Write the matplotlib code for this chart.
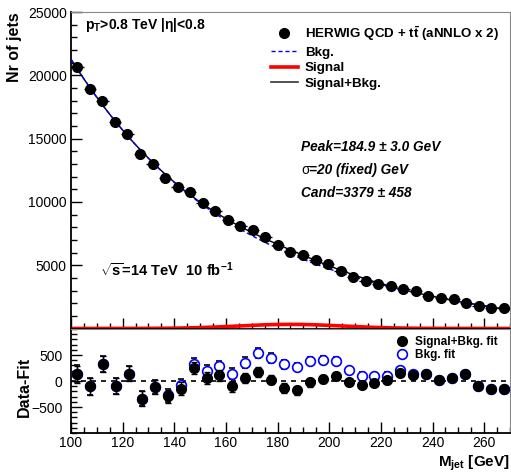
import numpy as np
import matplotlib
matplotlib.use("Agg")
import matplotlib.pyplot as plt
from matplotlib.lines import Line2D

plt.rcParams['font.family'] = ['Liberation Sans', 'DejaVu Sans']
plt.rcParams['mathtext.fontset'] = 'custom'
plt.rcParams['mathtext.rm'] = 'Liberation Sans'
plt.rcParams['mathtext.it'] = 'Liberation Sans:italic'
plt.rcParams['mathtext.bf'] = 'Liberation Sans:bold'

# top panel: jets per bin, 35 bins between 100 and 270 GeV
counts = [20635, 18945, 18000, 16290, 15365, 13785, 13000, 11865, 11200, 10810,
          9940, 9310, 8570, 8120, 7780, 7205, 6597, 6070, 5807, 5412,
          5070, 4543, 4043, 3780, 3515, 3380, 3120, 2963, 2595, 2435,
          2330, 1990, 1800, 1645, 1595]

# bottom panel: 5 GeV bins from 100 to 270 GeV
res_edges = np.arange(100, 275, 5)

# data - (signal+bkg) fit
resid_sb = [128, -103, 333, -96, 141, -340, -115, -295, -147, 250,
            64, 109, -103, 58, 173, 26, -135, -180, -26, 32,
            90, -26, -70, -38, 13, 160, 109, 141, 13, 64,
            128, -90, -147, -154]

# data - bkg fit
resid_b = [141, -103, 333, -96, 141, -340, -115, -276, -83, 320,
           186, 282, 141, 352, 538, 442, 320, 269, 385, 397,
           385, 205, 103, 90, 103, 205, 141, 141, 13, 64,
           128, -90, -147, -154]

resid_err = [165, 160, 155, 150, 145, 140, 135, 130, 125, 120,
             115, 110, 105, 100, 95, 92, 88, 85, 82, 78,
             75, 72, 70, 67, 64, 62, 60, 58, 55, 53,
             51, 48, 46, 44]

# fit result shown on the plot
sig_mean = 184.9
sig_width = 20.0
sig_cand = 3379

edges = np.linspace(100, 270, len(counts) + 1)
centers = 0.5 * (edges[:-1] + edges[1:])
bw = edges[1] - edges[0]
counts = np.array(counts, dtype=float)
errs = np.sqrt(counts)
res_centers = 0.5 * (res_edges[:-1] + res_edges[1:])

xs = np.linspace(100, 270, 400)
gauss = lambda x: sig_cand * bw / (np.sqrt(2 * np.pi) * sig_width) * np.exp(-0.5 * ((x - sig_mean) / sig_width) ** 2)
coef = np.polyfit(centers, np.log(counts - gauss(centers)), 4)
bkg = np.exp(np.polyval(coef, xs))
sig = gauss(xs)

fig = plt.figure(figsize=(5.11, 4.73), dpi=100)
ax1 = fig.add_axes([71 / 511, 1 - 328.5 / 473, 439 / 511, 316.5 / 473])
ax2 = fig.add_axes([71 / 511, 1 - 433 / 473, 439 / 511, 104 / 473])


def ptxt(x, y, s, **kw):
    # place text at reference pixel position
    fig.text(x / 511, 1 - y / 473, s, **kw)


for ax in (ax1, ax2):
    ax.set_xlim(100, 270)
    ax.tick_params(which='both', direction='in', labelsize=10)
    ax.tick_params(which='major', length=8, width=1)
    ax.tick_params(which='minor', length=4, width=1)
    ax.xaxis.set_major_locator(plt.MultipleLocator(20))
    ax.xaxis.set_minor_locator(plt.MultipleLocator(5))
    for s in ('top', 'right'):
        ax.spines[s].set_color('#888888')
    for s in ('left', 'bottom'):
        ax.spines[s].set_linewidth(1.3)

# top panel
ax1.set_ylim(0, 25000)
ax1.set_yticks([5000, 10000, 15000, 20000, 25000])
ax1.yaxis.set_minor_locator(plt.MultipleLocator(1000))
ax1.tick_params(axis='x', labelbottom=False)
ax1.tick_params(axis='y', pad=3)

ax1.plot(xs, sig, color='red', lw=2.6, zorder=2)
ax1.plot(xs, bkg + sig, color='black', lw=1, zorder=3)
ax1.plot(xs, bkg, color='blue', lw=1, ls=(0, (3, 2)), zorder=3)
ax1.errorbar(centers, counts, xerr=bw / 2, yerr=errs, fmt='o', color='black',
             ms=7, elinewidth=1, capsize=0, zorder=4)

ptxt(15, 12, 'Nr of jets', rotation=90, ha='center', va='top', fontsize=11.5, fontweight='bold')
ptxt(85, 25, r'p$_{\mathbf{T}}$>0.8 TeV |$\mathbf{\eta}$|<0.8', fontsize=10, fontweight='bold', va='center')
ptxt(100, 270, r'$\mathbf{\sqrt{s}}$=14 TeV  10 fb$^{\mathbf{-1}}$', fontsize=10.5, fontweight='bold', va='center')
ptxt(301, 147, u'Peak=184.9 \u00b1 3.0 GeV', fontsize=9.8, fontweight='bold', style='italic', va='center')
ptxt(301, 170, u'\u03c3', fontsize=9.8, va='center')
ptxt(309, 170, u'=20 (fixed) GeV', fontsize=9.8, fontweight='bold', style='italic', va='center')
ptxt(301, 193, u'Cand=3379 \u00b1 458', fontsize=9.8, fontweight='bold', style='italic', va='center')

handles = [Line2D([], [], marker='o', ls='none', color='black', ms=7),
           Line2D([], [], color='blue', lw=1, ls=(0, (3, 2))),
           Line2D([], [], color='red', lw=2.6),
           Line2D([], [], color='#333333', lw=1.2)]
labels = [r'HERWIG QCD + $\mathbf{t\bar{t}}$ (aNNLO x 2)', 'Bkg.', 'Signal', 'Signal+Bkg.']
ax1.legend(handles, labels, loc='upper left', bbox_to_anchor=((271 - 71) / 439, 1 - 12 / 316.5),
           frameon=False, prop={'weight': 'bold', 'size': 9.6}, handlelength=2.0,
           handletextpad=0.55, labelspacing=0.25, borderaxespad=0, borderpad=0)

# bottom panel
ax2.set_ylim(-1000, 1000)
ax2.set_yticks([-500, 0, 500])
ax2.yaxis.set_minor_locator(plt.MultipleLocator(100))
ax2.tick_params(axis='y', pad=6)
ax2.tick_params(axis='x', pad=2)
ax2.axhline(0, color='black', lw=1.2, ls=(0, (3, 3)), zorder=1)
ax2.errorbar(res_centers, resid_b, yerr=resid_err, fmt='o', mfc='white', mec='blue', mew=1.2,
             ecolor='black', ms=7, elinewidth=1, capsize=2, zorder=3)
ax2.errorbar(res_centers, resid_sb, yerr=resid_err, fmt='o', color='black',
             ms=7, elinewidth=1, capsize=2, zorder=4)

ptxt(24, 387, 'Data-Fit', rotation=90, ha='center', va='center', fontsize=11.5, fontweight='bold')
ptxt(510, 463, r'M$_{\mathbf{jet}}$ [GeV]', ha='right', va='center', fontsize=11, fontweight='bold')

h2 = [Line2D([], [], marker='o', ls='none', color='black', ms=7),
      Line2D([], [], marker='o', ls='none', mfc='white', mec='blue', mew=1.2, ms=7)]
ax2.legend(h2, ['Signal+Bkg. fit', 'Bkg. fit'], loc='upper left',
           bbox_to_anchor=((395 - 71) / 439, 1 - 7 / 104), frameon=False,
           prop={'weight': 'bold', 'size': 8.5}, handlelength=1.2, handletextpad=0.5,
           labelspacing=0.1, borderaxespad=0, borderpad=0)

fig.savefig('out.png', dpi=100)
